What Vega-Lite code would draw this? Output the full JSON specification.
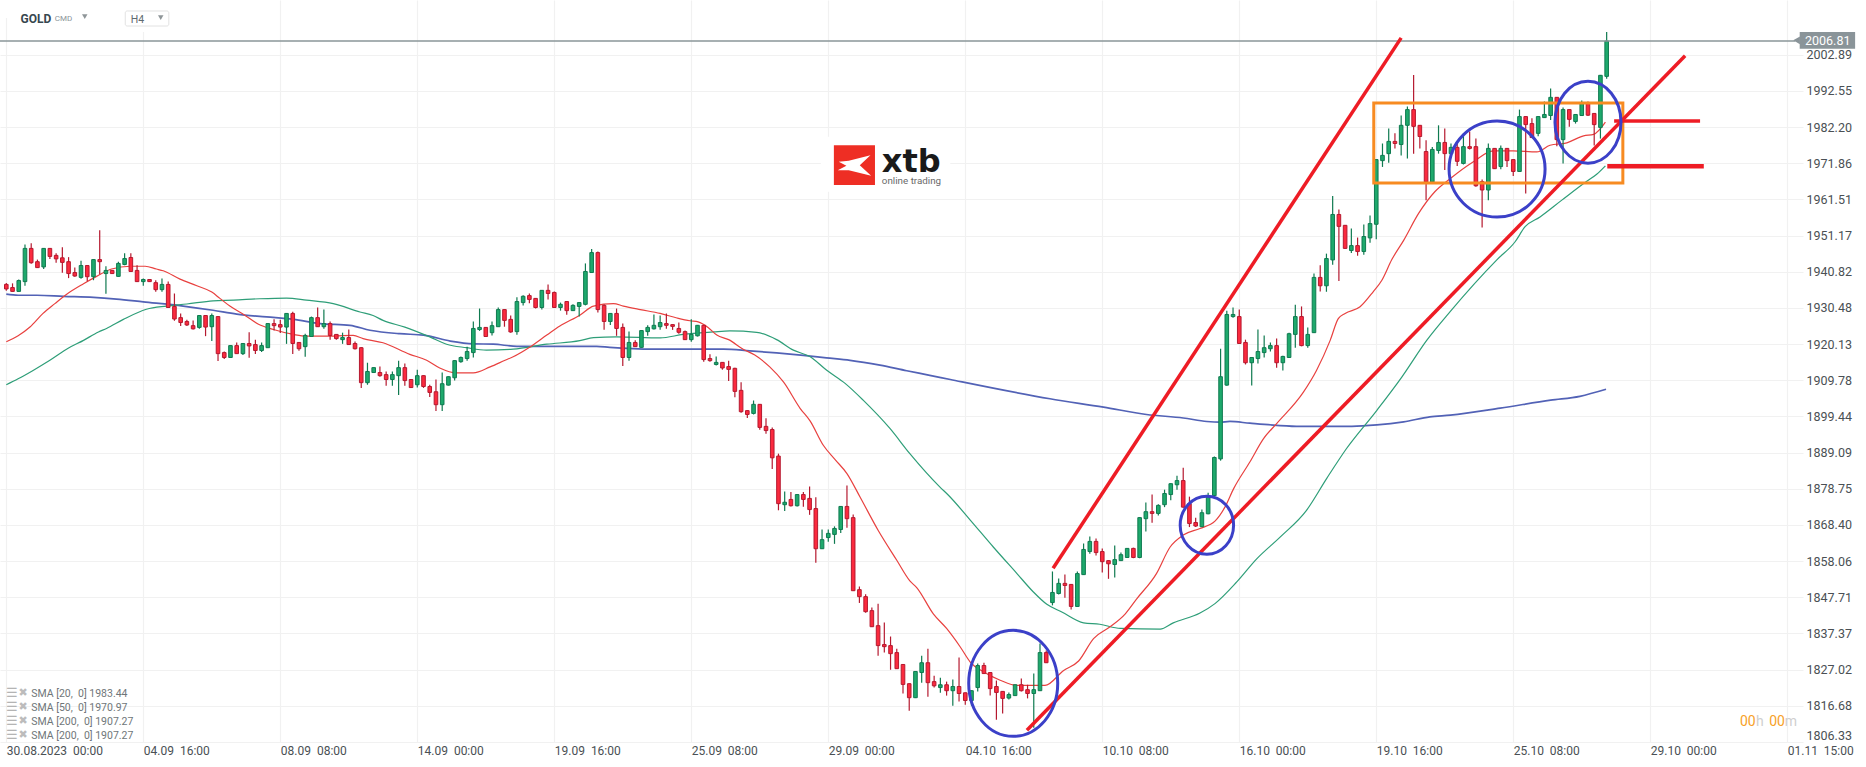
{"$schema":"https://vega.github.io/schema/vega-lite/v6.json","width":1803,"height":742,"autosize":"none","padding":{"left":0,"top":0,"right":63,"bottom":25},"background":"#ffffff","config":{"view":{"stroke":null},"text":{"font":"Roboto"},"axis":{"labelFont":"Roboto"}},
"datasets":{
"candles":[
{"i":0,"o":1937.2,"c":1935.9,"h":1937.6,"l":1935.4},{"i":1,"o":1936.3,"c":1935.2,"h":1937.5,"l":1935.1},{"i":2,"o":1935.2,"c":1938.3,"h":1938.6,"l":1935.1},{"i":3,"o":1938.0,"c":1947.5,"h":1948.6,"l":1936.8},{"i":4,"o":1947.5,"c":1943.4,"h":1949.0,"l":1943.1},{"i":5,"o":1943.7,"c":1942.0,"h":1944.3,"l":1941.9},{"i":6,"o":1942.2,"c":1947.5,"h":1947.6,"l":1941.6},{"i":7,"o":1947.5,"c":1945.2,"h":1947.6,"l":1944.5},{"i":8,"o":1945.5,"c":1944.5,"h":1946.1,"l":1943.4},{"i":9,"o":1944.8,"c":1943.5,"h":1947.8,"l":1940.5},
{"i":10,"o":1943.7,"c":1940.3,"h":1945.0,"l":1939.0},{"i":11,"o":1940.6,"c":1939.6,"h":1942.0,"l":1939.4},{"i":12,"o":1939.2,"c":1942.6,"h":1944.0,"l":1938.8},{"i":13,"o":1942.6,"c":1939.4,"h":1942.7,"l":1938.1},{"i":14,"o":1939.4,"c":1944.3,"h":1944.4,"l":1938.4},{"i":15,"o":1944.3,"c":1943.7,"h":1952.7,"l":1940.1},{"i":16,"o":1940.3,"c":1941.2,"h":1942.4,"l":1934.5},{"i":17,"o":1941.2,"c":1940.3,"h":1941.3,"l":1940.2},{"i":18,"o":1939.5,"c":1943.2,"h":1943.7,"l":1939.4},{"i":19,"o":1942.9,"c":1944.6,"h":1946.1,"l":1942.7},
{"i":20,"o":1944.9,"c":1940.9,"h":1946.1,"l":1940.8},{"i":21,"o":1941.2,"c":1938.0,"h":1942.7,"l":1937.9},{"i":22,"o":1938.0,"c":1938.6,"h":1938.9,"l":1936.8},{"i":23,"o":1938.6,"c":1938.0,"h":1938.7,"l":1937.9},{"i":24,"o":1937.7,"c":1935.7,"h":1938.4,"l":1935.1},{"i":25,"o":1935.7,"c":1937.2,"h":1938.9,"l":1935.1},{"i":26,"o":1937.2,"c":1930.6,"h":1938.0,"l":1930.5},{"i":27,"o":1930.9,"c":1927.3,"h":1934.6,"l":1926.8},{"i":28,"o":1927.7,"c":1926.3,"h":1928.9,"l":1925.3},{"i":29,"o":1926.6,"c":1925.6,"h":1927.1,"l":1925.3},
{"i":30,"o":1925.4,"c":1924.5,"h":1926.9,"l":1924.3},{"i":31,"o":1924.9,"c":1928.3,"h":1928.4,"l":1924.5},{"i":32,"o":1928.3,"c":1925.0,"h":1928.4,"l":1922.4},{"i":33,"o":1925.1,"c":1928.3,"h":1928.9,"l":1921.0},{"i":34,"o":1928.0,"c":1917.4,"h":1928.1,"l":1915.3},{"i":35,"o":1917.7,"c":1916.3,"h":1918.0,"l":1915.9},{"i":36,"o":1916.3,"c":1919.7,"h":1919.8,"l":1916.2},{"i":37,"o":1919.7,"c":1917.4,"h":1920.6,"l":1917.3},{"i":38,"o":1917.4,"c":1920.3,"h":1920.4,"l":1917.0},{"i":39,"o":1920.3,"c":1919.6,"h":1923.5,"l":1916.2},
{"i":40,"o":1920.0,"c":1918.3,"h":1921.4,"l":1917.3},{"i":41,"o":1918.3,"c":1919.7,"h":1920.6,"l":1917.9},{"i":42,"o":1919.1,"c":1926.0,"h":1926.1,"l":1919.0},{"i":43,"o":1926.0,"c":1925.4,"h":1927.2,"l":1924.0},{"i":44,"o":1925.7,"c":1925.0,"h":1927.1,"l":1923.3},{"i":45,"o":1925.0,"c":1928.9,"h":1929.0,"l":1920.2},{"i":46,"o":1928.9,"c":1920.3,"h":1929.4,"l":1917.3},{"i":47,"o":1920.6,"c":1918.8,"h":1920.7,"l":1918.2},{"i":48,"o":1919.4,"c":1922.6,"h":1923.1,"l":1916.5},{"i":49,"o":1922.3,"c":1927.7,"h":1928.0,"l":1922.2},
{"i":50,"o":1927.7,"c":1925.1,"h":1930.6,"l":1925.0},{"i":51,"o":1925.1,"c":1926.0,"h":1930.0,"l":1924.5},{"i":52,"o":1926.0,"c":1922.6,"h":1926.6,"l":1921.4},{"i":53,"o":1922.9,"c":1921.7,"h":1923.0,"l":1921.4},{"i":54,"o":1921.4,"c":1922.0,"h":1923.4,"l":1920.2},{"i":55,"o":1922.0,"c":1920.0,"h":1924.3,"l":1919.9},{"i":56,"o":1920.3,"c":1918.8,"h":1920.9,"l":1918.6},{"i":57,"o":1919.1,"c":1909.1,"h":1919.3,"l":1907.6},{"i":58,"o":1909.1,"c":1912.3,"h":1914.8,"l":1908.5},{"i":59,"o":1912.0,"c":1913.4,"h":1913.5,"l":1911.9},
{"i":60,"o":1912.0,"c":1911.1,"h":1913.7,"l":1910.8},{"i":61,"o":1911.4,"c":1910.0,"h":1912.3,"l":1908.2},{"i":62,"o":1910.0,"c":1911.4,"h":1912.3,"l":1908.2},{"i":63,"o":1911.1,"c":1913.4,"h":1915.4,"l":1905.6},{"i":64,"o":1913.4,"c":1909.7,"h":1914.6,"l":1908.2},{"i":65,"o":1910.0,"c":1907.7,"h":1910.1,"l":1907.6},{"i":66,"o":1908.5,"c":1911.1,"h":1912.8,"l":1907.7},{"i":67,"o":1911.1,"c":1908.0,"h":1911.2,"l":1907.6},{"i":68,"o":1908.0,"c":1906.3,"h":1908.5,"l":1905.0},{"i":69,"o":1906.5,"c":1902.8,"h":1910.0,"l":1901.0},
{"i":70,"o":1902.8,"c":1908.8,"h":1912.0,"l":1901.0},{"i":71,"o":1908.4,"c":1910.8,"h":1910.9,"l":1908.3},{"i":72,"o":1910.5,"c":1915.4,"h":1915.5,"l":1909.7},{"i":73,"o":1915.1,"c":1916.3,"h":1916.6,"l":1914.8},{"i":74,"o":1916.0,"c":1918.0,"h":1919.4,"l":1915.4},{"i":75,"o":1917.7,"c":1924.6,"h":1926.6,"l":1916.3},{"i":76,"o":1924.3,"c":1924.9,"h":1930.3,"l":1923.9},{"i":77,"o":1924.9,"c":1922.3,"h":1925.0,"l":1922.2},{"i":78,"o":1923.4,"c":1925.4,"h":1926.6,"l":1922.6},{"i":79,"o":1925.1,"c":1930.0,"h":1930.6,"l":1925.0},
{"i":80,"o":1930.0,"c":1926.9,"h":1930.1,"l":1925.1},{"i":81,"o":1927.2,"c":1923.6,"h":1928.3,"l":1923.4},{"i":82,"o":1923.7,"c":1932.3,"h":1933.5,"l":1922.8},{"i":83,"o":1932.0,"c":1933.8,"h":1934.1,"l":1931.2},{"i":84,"o":1934.0,"c":1932.9,"h":1934.6,"l":1931.8},{"i":85,"o":1933.2,"c":1930.6,"h":1933.3,"l":1930.3},{"i":86,"o":1930.6,"c":1935.5,"h":1935.6,"l":1930.0},{"i":87,"o":1935.5,"c":1934.6,"h":1937.2,"l":1932.9},{"i":88,"o":1934.9,"c":1930.6,"h":1935.2,"l":1930.5},{"i":89,"o":1930.6,"c":1931.5,"h":1932.0,"l":1929.7},
{"i":90,"o":1932.3,"c":1929.7,"h":1932.4,"l":1928.5},{"i":91,"o":1929.7,"c":1931.2,"h":1931.5,"l":1929.6},{"i":92,"o":1930.9,"c":1932.0,"h":1932.1,"l":1928.0},{"i":93,"o":1931.5,"c":1940.9,"h":1943.2,"l":1931.2},{"i":94,"o":1940.6,"c":1946.3,"h":1947.3,"l":1940.5},{"i":95,"o":1946.3,"c":1930.0,"h":1946.6,"l":1929.2},{"i":96,"o":1931.2,"c":1926.6,"h":1931.5,"l":1924.2},{"i":97,"o":1926.6,"c":1928.9,"h":1929.0,"l":1925.6},{"i":98,"o":1928.9,"c":1924.6,"h":1930.3,"l":1922.5},{"i":99,"o":1924.9,"c":1916.3,"h":1926.0,"l":1913.9},
{"i":100,"o":1916.3,"c":1920.6,"h":1923.7,"l":1915.4},{"i":101,"o":1920.6,"c":1919.4,"h":1921.2,"l":1919.3},{"i":102,"o":1919.2,"c":1924.0,"h":1924.1,"l":1919.1},{"i":103,"o":1923.7,"c":1924.9,"h":1925.5,"l":1922.5},{"i":104,"o":1924.5,"c":1925.5,"h":1928.6,"l":1924.3},{"i":105,"o":1925.1,"c":1926.3,"h":1928.3,"l":1924.2},{"i":106,"o":1926.0,"c":1925.5,"h":1928.9,"l":1924.5},{"i":107,"o":1925.7,"c":1925.2,"h":1925.8,"l":1924.2},{"i":108,"o":1924.6,"c":1923.5,"h":1926.3,"l":1923.1},{"i":109,"o":1923.7,"c":1921.4,"h":1924.0,"l":1921.3},
{"i":110,"o":1921.4,"c":1922.9,"h":1927.2,"l":1920.8},{"i":111,"o":1922.5,"c":1925.5,"h":1925.6,"l":1922.3},{"i":112,"o":1925.5,"c":1915.7,"h":1925.6,"l":1915.1},{"i":113,"o":1916.0,"c":1915.4,"h":1917.2,"l":1915.1},{"i":114,"o":1914.3,"c":1914.9,"h":1916.6,"l":1914.0},{"i":115,"o":1914.9,"c":1913.3,"h":1915.0,"l":1912.8},{"i":116,"o":1913.7,"c":1912.9,"h":1915.4,"l":1909.6},{"i":117,"o":1913.2,"c":1906.6,"h":1913.4,"l":1904.9},{"i":118,"o":1906.9,"c":1900.8,"h":1909.2,"l":1900.5},{"i":119,"o":1901.1,"c":1900.0,"h":1901.2,"l":1899.0},
{"i":120,"o":1900.3,"c":1902.9,"h":1904.0,"l":1900.0},{"i":121,"o":1902.9,"c":1896.3,"h":1903.0,"l":1895.6},{"i":122,"o":1896.6,"c":1895.4,"h":1898.9,"l":1894.5},{"i":123,"o":1895.7,"c":1887.6,"h":1896.3,"l":1884.4},{"i":124,"o":1888.1,"c":1874.5,"h":1888.8,"l":1872.6},{"i":125,"o":1874.2,"c":1874.9,"h":1878.0,"l":1872.4},{"i":126,"o":1875.7,"c":1873.9,"h":1877.8,"l":1873.7},{"i":127,"o":1873.9,"c":1877.1,"h":1877.2,"l":1873.7},{"i":128,"o":1877.1,"c":1875.7,"h":1877.8,"l":1873.6},{"i":129,"o":1876.0,"c":1872.8,"h":1879.4,"l":1871.3},
{"i":130,"o":1873.1,"c":1861.6,"h":1876.3,"l":1857.6},{"i":131,"o":1861.6,"c":1864.2,"h":1867.1,"l":1861.5},{"i":132,"o":1864.8,"c":1866.0,"h":1867.1,"l":1863.6},{"i":133,"o":1865.7,"c":1867.4,"h":1868.0,"l":1863.0},{"i":134,"o":1867.1,"c":1873.7,"h":1873.8,"l":1866.1},{"i":135,"o":1873.7,"c":1870.2,"h":1879.7,"l":1867.6},{"i":136,"o":1870.5,"c":1849.6,"h":1871.4,"l":1849.5},{"i":137,"o":1849.9,"c":1847.9,"h":1850.8,"l":1846.1},{"i":138,"o":1847.9,"c":1843.6,"h":1848.6,"l":1843.3},{"i":139,"o":1843.9,"c":1839.3,"h":1844.8,"l":1839.2},
{"i":140,"o":1839.6,"c":1833.9,"h":1845.9,"l":1831.0},{"i":141,"o":1834.2,"c":1833.6,"h":1840.5,"l":1831.9},{"i":142,"o":1833.9,"c":1831.6,"h":1836.5,"l":1827.0},{"i":143,"o":1831.9,"c":1827.3,"h":1833.0,"l":1827.2},{"i":144,"o":1828.5,"c":1822.8,"h":1828.6,"l":1820.2},{"i":145,"o":1823.0,"c":1819.0,"h":1823.1,"l":1815.3},{"i":146,"o":1819.0,"c":1826.5,"h":1826.6,"l":1818.9},{"i":147,"o":1826.2,"c":1829.0,"h":1831.0,"l":1823.3},{"i":148,"o":1829.0,"c":1823.3,"h":1833.0,"l":1819.3},{"i":149,"o":1823.6,"c":1822.4,"h":1825.3,"l":1821.9},
{"i":150,"o":1821.9,"c":1822.7,"h":1824.7,"l":1820.4},{"i":151,"o":1822.7,"c":1821.0,"h":1823.6,"l":1819.6},{"i":152,"o":1821.0,"c":1822.2,"h":1824.2,"l":1816.7},{"i":153,"o":1822.2,"c":1820.2,"h":1830.5,"l":1817.9},{"i":154,"o":1820.4,"c":1818.2,"h":1820.5,"l":1817.0},{"i":155,"o":1818.2,"c":1821.0,"h":1821.1,"l":1816.7},{"i":156,"o":1821.9,"c":1828.2,"h":1828.8,"l":1820.8},{"i":157,"o":1828.2,"c":1825.9,"h":1829.0,"l":1825.8},{"i":158,"o":1826.2,"c":1821.6,"h":1826.3,"l":1819.6},{"i":159,"o":1822.2,"c":1820.5,"h":1823.9,"l":1812.7},
{"i":160,"o":1820.8,"c":1818.8,"h":1820.9,"l":1814.5},{"i":161,"o":1818.9,"c":1819.9,"h":1820.5,"l":1818.5},{"i":162,"o":1819.6,"c":1822.7,"h":1822.8,"l":1819.5},{"i":163,"o":1822.7,"c":1821.0,"h":1824.5,"l":1820.8},{"i":164,"o":1821.3,"c":1820.2,"h":1822.7,"l":1818.8},{"i":165,"o":1820.2,"c":1821.3,"h":1825.9,"l":1810.4},{"i":166,"o":1821.0,"c":1831.9,"h":1834.5,"l":1820.9},{"i":167,"o":1831.9,"c":1829.0,"h":1832.5,"l":1828.9},{"i":168,"o":1846.2,"c":1849.1,"h":1855.1,"l":1845.4},{"i":169,"o":1848.8,"c":1851.7,"h":1853.1,"l":1848.5},
{"i":170,"o":1851.7,"c":1851.1,"h":1854.2,"l":1847.6},{"i":171,"o":1851.4,"c":1845.1,"h":1851.5,"l":1844.2},{"i":172,"o":1845.1,"c":1854.5,"h":1855.1,"l":1845.0},{"i":173,"o":1854.2,"c":1861.4,"h":1863.1,"l":1854.1},{"i":174,"o":1860.8,"c":1863.7,"h":1865.1,"l":1860.2},{"i":175,"o":1863.7,"c":1860.5,"h":1864.5,"l":1859.7},{"i":176,"o":1860.8,"c":1857.9,"h":1861.7,"l":1854.8},{"i":177,"o":1858.2,"c":1857.3,"h":1858.3,"l":1853.0},{"i":178,"o":1857.1,"c":1858.5,"h":1862.5,"l":1853.4},{"i":179,"o":1858.2,"c":1859.9,"h":1860.5,"l":1858.1},
{"i":180,"o":1859.1,"c":1861.7,"h":1861.8,"l":1859.0},{"i":181,"o":1861.7,"c":1859.1,"h":1861.9,"l":1858.9},{"i":182,"o":1859.1,"c":1870.5,"h":1870.6,"l":1858.9},{"i":183,"o":1870.2,"c":1872.2,"h":1874.8,"l":1866.5},{"i":184,"o":1872.2,"c":1871.7,"h":1877.1,"l":1869.0},{"i":185,"o":1871.7,"c":1874.0,"h":1874.3,"l":1871.1},{"i":186,"o":1874.2,"c":1877.4,"h":1878.5,"l":1873.5},{"i":187,"o":1877.1,"c":1880.2,"h":1880.3,"l":1875.5},{"i":188,"o":1879.9,"c":1881.1,"h":1882.5,"l":1878.5},{"i":189,"o":1881.1,"c":1873.5,"h":1884.8,"l":1873.3},
{"i":190,"o":1874.5,"c":1868.8,"h":1876.5,"l":1867.8},{"i":191,"o":1869.1,"c":1868.1,"h":1870.5,"l":1867.8},{"i":192,"o":1867.9,"c":1871.9,"h":1872.8,"l":1867.8},{"i":193,"o":1871.6,"c":1876.5,"h":1877.6,"l":1871.5},{"i":194,"o":1876.8,"c":1887.7,"h":1888.0,"l":1876.7},{"i":195,"o":1887.3,"c":1910.8,"h":1918.8,"l":1886.8},{"i":196,"o":1908.4,"c":1928.6,"h":1929.7,"l":1908.2},{"i":197,"o":1928.0,"c":1928.6,"h":1930.6,"l":1927.7},{"i":198,"o":1928.0,"c":1920.3,"h":1930.0,"l":1920.2},{"i":199,"o":1920.6,"c":1914.8,"h":1921.4,"l":1914.3},
{"i":200,"o":1914.8,"c":1916.3,"h":1916.4,"l":1908.3},{"i":201,"o":1916.0,"c":1918.0,"h":1924.3,"l":1914.6},{"i":202,"o":1917.7,"c":1919.1,"h":1922.6,"l":1916.3},{"i":203,"o":1918.8,"c":1919.7,"h":1920.6,"l":1918.0},{"i":204,"o":1919.7,"c":1914.8,"h":1921.7,"l":1913.4},{"i":205,"o":1914.8,"c":1916.6,"h":1916.8,"l":1912.6},{"i":206,"o":1916.3,"c":1923.1,"h":1923.4,"l":1916.2},{"i":207,"o":1922.9,"c":1928.0,"h":1931.4,"l":1919.1},{"i":208,"o":1928.0,"c":1919.7,"h":1930.9,"l":1919.5},{"i":209,"o":1919.7,"c":1922.9,"h":1924.9,"l":1919.1},
{"i":210,"o":1923.4,"c":1939.2,"h":1940.3,"l":1923.3},{"i":211,"o":1939.2,"c":1936.8,"h":1942.7,"l":1935.2},{"i":212,"o":1936.8,"c":1944.6,"h":1946.0,"l":1935.1},{"i":213,"o":1944.2,"c":1957.2,"h":1962.5,"l":1942.8},{"i":214,"o":1957.2,"c":1953.8,"h":1958.6,"l":1938.2},{"i":215,"o":1954.1,"c":1947.5,"h":1954.2,"l":1947.4},{"i":216,"o":1946.9,"c":1948.3,"h":1953.2,"l":1946.2},{"i":217,"o":1948.3,"c":1946.6,"h":1950.6,"l":1945.4},{"i":218,"o":1946.6,"c":1950.9,"h":1954.3,"l":1945.7},{"i":219,"o":1950.5,"c":1954.6,"h":1956.9,"l":1949.1},
{"i":220,"o":1954.4,"c":1972.9,"h":1973.0,"l":1950.1},{"i":221,"o":1972.6,"c":1974.1,"h":1977.5,"l":1970.8},{"i":222,"o":1974.6,"c":1978.1,"h":1981.8,"l":1972.0},{"i":223,"o":1978.1,"c":1977.5,"h":1980.4,"l":1976.1},{"i":224,"o":1977.2,"c":1982.7,"h":1985.5,"l":1974.1},{"i":225,"o":1982.7,"c":1987.2,"h":1988.1,"l":1973.2},{"i":226,"o":1987.2,"c":1982.4,"h":1997.1,"l":1974.6},{"i":227,"o":1982.7,"c":1979.5,"h":1982.8,"l":1976.1},{"i":228,"o":1975.2,"c":1966.5,"h":1978.4,"l":1961.3},{"i":229,"o":1966.5,"c":1975.8,"h":1976.5,"l":1966.4},
{"i":230,"o":1975.5,"c":1977.8,"h":1982.7,"l":1974.6},{"i":231,"o":1977.8,"c":1974.6,"h":1981.8,"l":1969.9},{"i":232,"o":1974.6,"c":1976.4,"h":1977.5,"l":1974.2},{"i":233,"o":1976.4,"c":1972.4,"h":1978.1,"l":1971.1},{"i":234,"o":1971.8,"c":1976.6,"h":1980.4,"l":1971.5},{"i":235,"o":1976.6,"c":1976.1,"h":1980.9,"l":1975.8},{"i":236,"o":1976.6,"c":1965.4,"h":1978.9,"l":1965.1},{"i":237,"o":1966.6,"c":1964.2,"h":1967.2,"l":1953.5},{"i":238,"o":1964.2,"c":1976.1,"h":1977.5,"l":1961.3},{"i":239,"o":1976.1,"c":1970.3,"h":1976.2,"l":1970.2},
{"i":240,"o":1970.9,"c":1976.1,"h":1976.9,"l":1970.1},{"i":241,"o":1976.1,"c":1972.6,"h":1976.2,"l":1970.8},{"i":242,"o":1972.9,"c":1969.5,"h":1973.0,"l":1968.2},{"i":243,"o":1969.5,"c":1985.2,"h":1987.2,"l":1969.4},{"i":244,"o":1985.2,"c":1982.9,"h":1985.3,"l":1963.2},{"i":245,"o":1983.2,"c":1979.2,"h":1984.7,"l":1979.1},{"i":246,"o":1980.4,"c":1985.2,"h":1985.3,"l":1979.6},{"i":247,"o":1984.9,"c":1985.8,"h":1989.5,"l":1984.8},{"i":248,"o":1985.5,"c":1990.7,"h":1993.2,"l":1984.2},{"i":249,"o":1990.7,"c":1978.6,"h":1990.8,"l":1976.7},
{"i":250,"o":1978.6,"c":1987.2,"h":1987.8,"l":1971.8},{"i":251,"o":1987.2,"c":1984.4,"h":1987.3,"l":1982.3},{"i":252,"o":1983.8,"c":1985.8,"h":1985.9,"l":1983.2},{"i":253,"o":1985.5,"c":1988.9,"h":1989.8,"l":1985.4},{"i":254,"o":1988.9,"c":1985.6,"h":1989.5,"l":1985.4},{"i":255,"o":1986.1,"c":1982.9,"h":1986.2,"l":1976.9},{"i":256,"o":1982.1,"c":1997.0,"h":1997.1,"l":1978.9},{"i":257,"o":1996.7,"c":2006.8,"h":2009.4,"l":1996.0}],
"sma20":[{"i":0,"v":1920.8},{"i":1.9,"v":1922.5},{"i":3.8,"v":1925.0},{"i":5.9,"v":1928.9},{"i":7.8,"v":1931.7},{"i":9.7,"v":1934.4},{"i":12.4,"v":1937.4},{"i":14.5,"v":1939.5},{"i":16.9,"v":1941.6},{"i":19.9,"v":1942.4},{"i":22.3,"v":1942.4},{"i":24.1,"v":1941.6},{"i":25.2,"v":1941.1},{"i":27.9,"v":1938.7},{"i":30.6,"v":1936.8},{"i":33,"v":1935.0},{"i":34.3,"v":1933.2},{"i":35.9,"v":1931.0},{"i":38.3,"v":1928.4},{"i":40.5,"v":1925.8},{"i":42.9,"v":1924.3},{"i":46.1,"v":1922.9},{"i":48.2,"v":1922.4},{"i":50.9,"v":1922.4},{"i":55.7,"v":1922.6},{"i":57.3,"v":1921.7},{"i":60.5,"v":1920.5},{"i":64.8,"v":1917.2},{"i":67.5,"v":1915.5},{"i":69.6,"v":1913.3},{"i":72.3,"v":1911.9},{"i":75,"v":1911.9},{"i":77.7,"v":1913.6},{"i":80.1,"v":1915.5},{"i":81.4,"v":1916.5},{"i":84.1,"v":1919.3},{"i":86.8,"v":1922.7},{"i":88.9,"v":1925.3},{"i":92.1,"v":1928.4},{"i":94.3,"v":1931.0},{"i":97.5,"v":1931.7},{"i":99.1,"v":1931.0},{"i":101.8,"v":1930.0},{"i":105,"v":1928.9},{"i":107.7,"v":1927.6},{"i":109.8,"v":1926.8},{"i":111.1,"v":1926.5},{"i":112.7,"v":1924.9},{"i":114.1,"v":1922.7},{"i":116,"v":1921.4},{"i":118.4,"v":1918.6},{"i":120.2,"v":1917.0},{"i":122.6,"v":1913.6},{"i":124.8,"v":1909.3},{"i":127.5,"v":1901.7},{"i":129.1,"v":1898.1},{"i":131.2,"v":1891.2},{"i":133.1,"v":1887.1},{"i":135,"v":1883.1},{"i":137.1,"v":1876.4},{"i":140,"v":1866.9},{"i":143,"v":1858.3},{"i":145.1,"v":1852.4},{"i":146.2,"v":1850.5},{"i":148.9,"v":1842.9},{"i":151,"v":1838.8},{"i":153.2,"v":1833.5},{"i":154.8,"v":1829.2},{"i":156.9,"v":1826.4},{"i":159.6,"v":1824.0},{"i":162.3,"v":1822.5},{"i":166.8,"v":1822.5},{"i":169.8,"v":1826.8},{"i":172.2,"v":1829.5},{"i":174.6,"v":1835.9},{"i":177.2,"v":1839.2},{"i":179.7,"v":1843.0},{"i":181.5,"v":1847.2},{"i":184.7,"v":1854.5},{"i":186.9,"v":1862.1},{"i":189,"v":1865.5},{"i":191.7,"v":1867.4},{"i":194.1,"v":1869.5},{"i":195.7,"v":1873.5},{"i":197.1,"v":1878.8},{"i":199.7,"v":1886.4},{"i":201.9,"v":1893.1},{"i":204,"v":1897.4},{"i":208.3,"v":1906.4},{"i":210.4,"v":1912.6},{"i":212.6,"v":1921.2},{"i":213.9,"v":1927.4},{"i":215,"v":1928.9},{"i":217.4,"v":1930.8},{"i":219.5,"v":1935.1},{"i":220.9,"v":1938.4},{"i":222.5,"v":1944.3},{"i":224.4,"v":1949.8},{"i":226.8,"v":1957.5},{"i":229.4,"v":1963.7},{"i":231.9,"v":1967.5},{"i":235.6,"v":1972.3},{"i":238.8,"v":1975.4},{"i":242,"v":1975.4},{"i":245.8,"v":1975.1},{"i":247.9,"v":1977.0},{"i":250.6,"v":1977.7},{"i":253.3,"v":1979.7},{"i":254.9,"v":1980.1},{"i":256.8,"v":1983.6}],
"sma50":[{"i":0,"v":1908.5},{"i":1.9,"v":1910.2},{"i":4.3,"v":1912.6},{"i":7,"v":1915.5},{"i":10,"v":1919.0},{"i":12.4,"v":1921.2},{"i":14.8,"v":1923.6},{"i":16.1,"v":1924.6},{"i":18.8,"v":1927.2},{"i":22.5,"v":1930.1},{"i":25.7,"v":1931.0},{"i":29,"v":1931.6},{"i":33.2,"v":1932.5},{"i":36.5,"v":1932.7},{"i":40.7,"v":1933.1},{"i":45,"v":1933.3},{"i":48.2,"v":1932.7},{"i":52.5,"v":1931.7},{"i":56.8,"v":1929.3},{"i":58.9,"v":1928.3},{"i":60.5,"v":1926.9},{"i":64,"v":1925.0},{"i":68,"v":1922.2},{"i":70.7,"v":1920.1},{"i":73.9,"v":1919.1},{"i":77.1,"v":1918.4},{"i":81.4,"v":1918.7},{"i":86.8,"v":1920.1},{"i":92.1,"v":1921.1},{"i":94.3,"v":1922.0},{"i":98,"v":1922.2},{"i":105,"v":1921.9},{"i":108.7,"v":1922.9},{"i":113.5,"v":1923.6},{"i":116.2,"v":1923.9},{"i":120.5,"v":1923.5},{"i":123.7,"v":1921.4},{"i":126.4,"v":1918.4},{"i":129.1,"v":1916.5},{"i":131.7,"v":1912.7},{"i":134.7,"v":1908.9},{"i":137.6,"v":1904.1},{"i":141.9,"v":1896.0},{"i":145.1,"v":1888.8},{"i":149.9,"v":1879.3},{"i":151.3,"v":1876.9},{"i":154.8,"v":1869.8},{"i":158.5,"v":1862.1},{"i":162.3,"v":1854.5},{"i":164.9,"v":1849.3},{"i":167.1,"v":1845.7},{"i":169.5,"v":1843.5},{"i":173,"v":1840.4},{"i":175.6,"v":1840.0},{"i":178.9,"v":1838.8},{"i":185.3,"v":1838.6},{"i":187.4,"v":1840.4},{"i":191.7,"v":1843.2},{"i":194.1,"v":1845.9},{"i":197.6,"v":1852.1},{"i":200.8,"v":1858.7},{"i":204.6,"v":1865.0},{"i":208.8,"v":1872.6},{"i":212,"v":1881.6},{"i":215.2,"v":1890.2},{"i":220.1,"v":1901.2},{"i":224.1,"v":1910.7},{"i":228.1,"v":1921.2},{"i":231.9,"v":1929.5},{"i":239.4,"v":1944.3},{"i":242.3,"v":1949.4},{"i":243.9,"v":1953.7},{"i":246.3,"v":1956.5},{"i":249.8,"v":1961.3},{"i":253.8,"v":1966.7},{"i":255.4,"v":1968.7},{"i":256.8,"v":1971.1}],
"sma200":[{"i":0,"v":1934.4},{"i":1.9,"v":1934.1},{"i":4.9,"v":1934.1},{"i":9.2,"v":1933.8},{"i":14,"v":1933.5},{"i":17.7,"v":1933.0},{"i":22,"v":1932.2},{"i":28.4,"v":1931.0},{"i":33.2,"v":1929.8},{"i":37,"v":1928.7},{"i":41.8,"v":1927.9},{"i":46.1,"v":1927.2},{"i":50.4,"v":1926.0},{"i":55.2,"v":1925.5},{"i":58.4,"v":1924.1},{"i":63.2,"v":1923.1},{"i":67,"v":1922.7},{"i":71.3,"v":1921.0},{"i":75,"v":1920.2},{"i":78.2,"v":1920.1},{"i":82,"v":1919.5},{"i":94.8,"v":1919.5},{"i":96.9,"v":1919.2},{"i":103.9,"v":1918.7},{"i":115.2,"v":1918.7},{"i":119.4,"v":1918.2},{"i":123.7,"v":1917.6},{"i":128,"v":1916.9},{"i":131.7,"v":1916.2},{"i":135.5,"v":1915.5},{"i":140.3,"v":1914.1},{"i":144.6,"v":1912.5},{"i":148.3,"v":1911.2},{"i":151.6,"v":1910.0},{"i":167.6,"v":1904.5},{"i":176.2,"v":1902.1},{"i":183.1,"v":1900.0},{"i":189,"v":1899.0},{"i":192.8,"v":1898.0},{"i":194.9,"v":1897.8},{"i":196.5,"v":1898.0},{"i":199.7,"v":1897.5},{"i":204,"v":1896.9},{"i":207.8,"v":1896.6},{"i":216.1,"v":1896.6},{"i":220.1,"v":1897.0},{"i":224.4,"v":1897.9},{"i":228.6,"v":1899.3},{"i":231.9,"v":1899.8},{"i":239.9,"v":1901.8},{"i":248,"v":1904.1},{"i":252.7,"v":1905.2},{"i":256.9,"v":1907.2}]
},
"encoding":{
"x":{"field":"i","type":"quantitative","title":null,"scale":{"domain":[-1.012,288.53],"nice":false,"zero":false,"padding":0},"axis":{"values":[0,22,44,66,88,110,132,154,176,198,220,242,264,286],"labelExpr":"['30.08.2023\u00a0\u00a000:00','04.09\u00a0\u00a016:00','08.09\u00a0\u00a008:00','14.09\u00a0\u00a000:00','19.09\u00a0\u00a016:00','25.09\u00a0\u00a008:00','29.09\u00a0\u00a000:00','04.10\u00a0\u00a016:00','10.10\u00a0\u00a008:00','16.10\u00a0\u00a000:00','19.10\u00a0\u00a016:00','25.10\u00a0\u00a008:00','29.10\u00a0\u00a000:00','01.11\u00a0\u00a015:00'][datum.value/22]","labelAlign":"left","labelBaseline":"middle","labelPadding":8,"labelFontSize":12,"labelColor":"#4a5054","labelOverlap":false,"labelBound":false,"labelFlush":false,"tickSize":0,"domain":false,"grid":true,"gridColor":"#f1f1f1","gridWidth":1.2}},
"y":{"field":"v","type":"quantitative","title":null,"scale":{"domain":[1806.33,2018.54],"nice":false,"zero":false},"axis":{"orient":"right","values":[2002.89,1992.55,1982.20,1971.86,1961.51,1951.17,1940.82,1930.48,1920.13,1909.78,1899.44,1889.09,1878.75,1868.40,1858.06,1847.71,1837.37,1827.02,1816.68,1806.33],"format":".2f","labelPadding":3,"labelFontSize":12.5,"labelColor":"#4a5054","labelOverlap":false,"labelBound":false,"labelFlush":true,"tickSize":0,"domain":false,"grid":true,"gridColor":"#f1f1f1","gridWidth":1.2}}
},
"layer":[
{"data":{"values":[{"i":-1.012,"i2":27.1,"v":2018.54,"v2":2013.4},{"i":0.6,"i2":27.1,"v":2013.4,"v2":2009.4},{"i":130.8,"i2":151.6,"v":1979.4,"v2":1963.7}]},"mark":{"type":"rect","fill":"#ffffff"},"encoding":{"x2":{"field":"i2"},"y2":{"field":"v2"}}},
{"data":{"name":"sma200"},"mark":{"type":"line","stroke":"#5262b6","strokeWidth":1.7,"interpolate":"monotone"}},
{"data":{"name":"sma50"},"mark":{"type":"line","stroke":"#2e9e78","strokeWidth":1.2,"interpolate":"monotone"}},
{"data":{"name":"sma20"},"mark":{"type":"line","stroke":"#e8413f","strokeWidth":1.2,"interpolate":"monotone"}},
{"data":{"name":"candles"},"mark":{"type":"rule","strokeWidth":1.2},"encoding":{"y":{"field":"l","type":"quantitative","title":null,"scale":{"domain":[1806.33,2018.54],"nice":false,"zero":false},"axis":{"orient":"right","values":[2002.89,1992.55,1982.20,1971.86,1961.51,1951.17,1940.82,1930.48,1920.13,1909.78,1899.44,1889.09,1878.75,1868.40,1858.06,1847.71,1837.37,1827.02,1816.68,1806.33],"format":".2f","labelPadding":3,"labelFontSize":12.5,"labelColor":"#4a5054","labelOverlap":false,"labelBound":false,"labelFlush":true,"tickSize":0,"domain":false,"grid":true,"gridColor":"#f1f1f1","gridWidth":1.2}},"y2":{"field":"h"},"stroke":{"condition":{"test":"datum.c>=datum.o","value":"#0f7a50"},"value":"#b5192f"}}},
{"data":{"name":"candles"},"mark":{"type":"bar","size":3.6,"orient":"vertical","strokeWidth":1},"encoding":{"y":{"field":"o","type":"quantitative","title":null,"scale":{"domain":[1806.33,2018.54],"nice":false,"zero":false},"axis":{"orient":"right","values":[2002.89,1992.55,1982.20,1971.86,1961.51,1951.17,1940.82,1930.48,1920.13,1909.78,1899.44,1889.09,1878.75,1868.40,1858.06,1847.71,1837.37,1827.02,1816.68,1806.33],"format":".2f","labelPadding":3,"labelFontSize":12.5,"labelColor":"#4a5054","labelOverlap":false,"labelBound":false,"labelFlush":true,"tickSize":0,"domain":false,"grid":true,"gridColor":"#f1f1f1","gridWidth":1.2}},"y2":{"field":"c"},"fill":{"condition":{"test":"datum.c>=datum.o","value":"#1ea96c"},"value":"#fb2a3e"},"stroke":{"condition":{"test":"datum.c>=datum.o","value":"#0f7a50"},"value":"#b5192f"}}},
{"data":{"values":[{"i":-1.012,"i2":287.3,"v":2006.81}]},"mark":{"type":"rule","stroke":"#8a9699","strokeWidth":1.3},"encoding":{"x2":{"field":"i2"}}},
{"data":{"values":[{"i":219.6,"i2":259.6,"v":1989.1,"v2":1966.2}]},"mark":{"type":"rect","filled":false,"stroke":"#f78b21","strokeWidth":3},"encoding":{"x2":{"field":"i2"},"y2":{"field":"v2"}}},
{"data":{"values":[{"i":168.1,"v":1856.0,"i2":224,"v2":2007.7},{"i":163.9,"v":1809.7,"i2":269.6,"v2":2002.6},{"i":258.2,"v":1983.9,"i2":272.0,"v2":1983.9}]},"mark":{"type":"rule","stroke":"#ee1c25","strokeWidth":3.5},"encoding":{"x2":{"field":"i2"},"y2":{"field":"v2"}}},
{"data":{"values":[{"i":257.1,"v":1971.0,"i2":272.6,"v2":1971.0}]},"mark":{"type":"rule","stroke":"#ee1c25","strokeWidth":4.5},"encoding":{"x2":{"field":"i2"},"y2":{"field":"v2"}}},
{"data":{"values":[{"i":161.7,"v":1823.1}]},"mark":{"type":"point","shape":"M-1,0C-1,-0.658,-0.552,-1.191,0,-1.191C0.552,-1.191,1,-0.658,1,0C1,0.658,0.552,1.191,0,1.191C-0.552,1.191,-1,0.658,-1,0Z","size":7921,"filled":false,"stroke":"#3b40c8","strokeWidth":3,"opacity":1}},
{"data":{"values":[{"i":192.8,"v":1868.3}]},"mark":{"type":"point","shape":"M-1,0C-1,-0.6,-0.552,-1.086,0,-1.086C0.552,-1.086,1,-0.6,1,0C1,0.6,0.552,1.086,0,1.086C-0.552,1.086,-1,0.6,-1,0Z","size":2852,"filled":false,"stroke":"#3b40c8","strokeWidth":3,"opacity":1}},
{"data":{"values":[{"i":239.4,"v":1970.2}]},"mark":{"type":"point","shape":"M-1,0C-1,-0.552,-0.552,-1,0,-1C0.552,-1,1,-0.552,1,0C1,0.552,0.552,1,0,1C-0.552,1,-1,0.552,-1,0Z","size":9216,"filled":false,"stroke":"#3b40c8","strokeWidth":3,"opacity":1}},
{"data":{"values":[{"i":254,"v":1983.6}]},"mark":{"type":"point","shape":"M-1,0C-1,-0.686,-0.552,-1.242,0,-1.242C0.552,-1.242,1,-0.686,1,0C1,0.686,0.552,1.242,0,1.242C-0.552,1.242,-1,0.686,-1,0Z","size":4356,"filled":false,"stroke":"#3b40c8","strokeWidth":3,"opacity":1}},
{"data":{"values":[{"i":288.0,"i2":296.9,"v":2009.4,"v2":2004.6}]},"mark":{"type":"rect","fill":"#8a9499"},"encoding":{"x2":{"field":"i2"},"y2":{"field":"v2"}}},
{"data":{"values":[{"i":287.5,"v":2007.0}]},"mark":{"type":"point","shape":"triangle-left","size":60,"filled":true,"fill":"#8a9499","opacity":1}},
{"data":{"values":[{"i":292.5,"v":2006.8,"t":"2006.81"}]},"mark":{"type":"text","fontSize":12.5,"color":"#ffffff","align":"center","baseline":"middle"},"encoding":{"text":{"field":"t"}}},
{"data":{"values":[{"i":19.1,"i2":26.1,"v":2015.4,"v2":2011.1}]},"mark":{"type":"rect","filled":false,"stroke":"#e2e2e2","strokeWidth":1,"cornerRadius":2},"encoding":{"x2":{"field":"i2"},"y2":{"field":"v2"}}},
{"data":{"values":[{"i":2.3,"v":2013.1,"t":"GOLD"}]},"mark":{"type":"text","fontSize":12,"fontWeight":"bold","color":"#37474f","align":"left","baseline":"middle"},"encoding":{"text":{"field":"t"}}},
{"data":{"values":[{"i":7.8,"v":2013.0,"t":"CMD"}]},"mark":{"type":"text","fontSize":8,"color":"#8a9499","align":"left","baseline":"middle"},"encoding":{"text":{"field":"t"}}},
{"data":{"values":[{"i":20,"v":2012.8,"t":"H4"}]},"mark":{"type":"text","fontSize":10.5,"color":"#5f6b70","align":"left","baseline":"middle"},"encoding":{"text":{"field":"t"}}},
{"data":{"values":[{"i":12.6,"v":2013.8},{"i":24.8,"v":2013.5}]},"mark":{"type":"point","shape":"triangle-down","size":30,"filled":true,"fill":"#8f9699","opacity":1}},
{"data":{"values":[{"i":132.9,"i2":139.5,"v":1977.0,"v2":1965.6}]},"mark":{"type":"rect","fill":"#ee2e24"},"encoding":{"x2":{"field":"i2"},"y2":{"field":"v2"}}},
{"data":{"values":[{"i":136.2,"v":1971.3}]},"mark":{"type":"point","shape":"M-0.94,-0.2L-0.34,-0.26L0.96,-0.6L0.32,0L1,0.64L-0.34,0.3L-1,0.3L-0.48,0.04Z","size":1115,"filled":true,"fill":"#ffffff","opacity":1}},
{"data":{"values":[{"i":140.6,"v":1969.3,"t":"xtb"}]},"mark":{"type":"text","font":"DejaVu Sans","fontSize":32,"fontWeight":"bold","color":"#1a1a1a","align":"left","baseline":"alphabetic"},"encoding":{"text":{"field":"t"}}},
{"data":{"values":[{"i":140.6,"v":1966.8,"t":"online trading"}]},"mark":{"type":"text","font":"Roboto","fontSize":9.8,"color":"#6a6a6a","align":"left","baseline":"middle"},"encoding":{"text":{"field":"t"}}},
{"data":{"values":[{"i":4,"v":1819.97,"t":"SMA\u00a0[20,\u00a0\u00a00]\u00a01983.44"},{"i":4,"v":1815.97,"t":"SMA\u00a0[50,\u00a0\u00a00]\u00a01970.97"},{"i":4,"v":1811.97,"t":"SMA\u00a0[200,\u00a0\u00a00]\u00a01907.27"},{"i":4,"v":1807.95,"t":"SMA\u00a0[200,\u00a0\u00a00]\u00a01907.27"}]},"mark":{"type":"text","fontSize":10.5,"color":"#6f7679","align":"left","baseline":"middle"},"encoding":{"text":{"field":"t"}}},
{"data":{"values":[{"i":0.9,"v":1820.3,"t":"☰"},{"i":0.9,"v":1816.3,"t":"☰"},{"i":0.9,"v":1812.3,"t":"☰"},{"i":0.9,"v":1808.3,"t":"☰"}]},"mark":{"type":"text","font":"DejaVu Sans","fontSize":13,"color":"#b4b4b4","align":"center","baseline":"middle"},"encoding":{"text":{"field":"t"}}},
{"data":{"values":[{"i":2.7,"v":1820.3,"t":"✖"},{"i":2.7,"v":1816.3,"t":"✖"},{"i":2.7,"v":1812.3,"t":"✖"},{"i":2.7,"v":1808.3,"t":"✖"}]},"mark":{"type":"text","font":"DejaVu Sans","fontSize":11,"color":"#bcbcbc","align":"center","baseline":"middle"},"encoding":{"text":{"field":"t"}}},
{"data":{"values":[{"i":278.4,"v":1811.96,"t":"00"},{"i":283.1,"v":1811.96,"t":"00"}]},"mark":{"type":"text","fontSize":14,"color":"#f7a128","align":"left","baseline":"middle"},"encoding":{"text":{"field":"t"}}},
{"data":{"values":[{"i":281,"v":1811.96,"t":"h"},{"i":285.6,"v":1811.96,"t":"m"}]},"mark":{"type":"text","fontSize":14,"color":"#cfcfcf","align":"left","baseline":"middle"},"encoding":{"text":{"field":"t"}}}
]}
